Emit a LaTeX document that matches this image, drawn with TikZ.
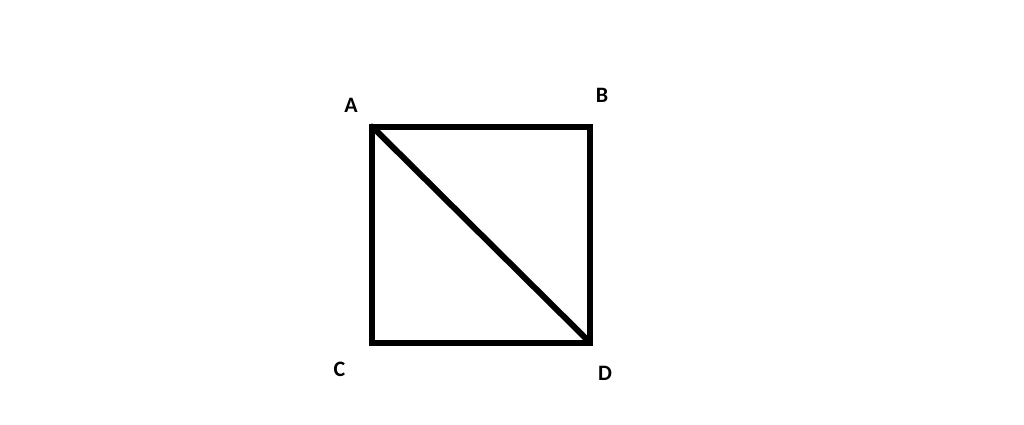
\documentclass[tikz,border=0pt]{standalone}
\usepackage{fontspec}
\setmainfont{Carlito}
\begin{document}
\begin{tikzpicture}[x=1pt,y=-1pt,
  edge/.style={line width=6pt,black,line join=miter},
  lbl/.style={font=\fontsize{22}{24}\selectfont\bfseries,inner sep=0pt}]
\useasboundingbox[fill=white] (0,0) rectangle (1024,425);
\coordinate (pA) at (372,126.5);
\coordinate (pB) at (590,126.5);
\coordinate (pC) at (372,342.5);
\coordinate (pD) at (590,342.5);
\draw[edge] (pA) -- (pB) -- (pD) -- (pC) -- cycle;
\draw[edge,line cap=round] (pA) -- (pD);
\node[lbl] (lA) at (351,105.5) {A};
\node[lbl] (lB) at (602,95) {B};
\node[lbl] (lC) at (339.5,369) {C};
\node[lbl] (lD) at (605,373.5) {D};
\end{tikzpicture}
\end{document}
